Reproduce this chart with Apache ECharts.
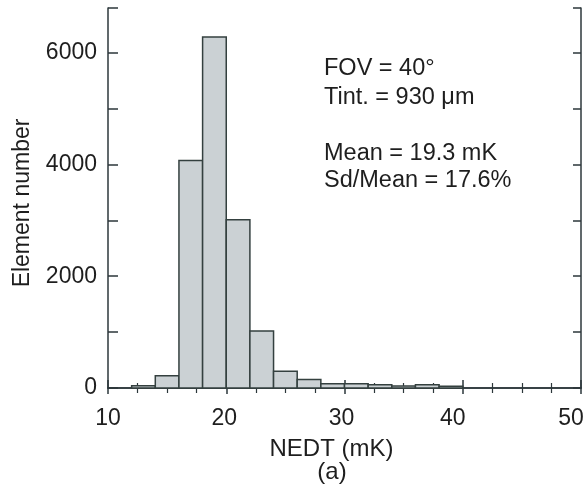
<!DOCTYPE html>
<html><head><meta charset="utf-8">
<script src="https://cdn.jsdelivr.net/npm/echarts@6/dist/echarts.min.js"></script>
<style>html,body{margin:0;padding:0;background:#fff}#c{width:588px;height:486px}</style>
</head><body><div id="c"></div>
<script>
const binStarts = [12, 14, 16, 18, 20, 22, 24, 26, 28, 30, 32, 34, 36, 38];
const binEnds   = [14, 16, 18, 20, 22, 24, 26, 28, 30, 32, 34, 36, 38, 40];
const counts    = [40, 220, 4070, 6280, 3010, 1020, 300, 150, 78, 75, 60, 35, 60, 30];
const xTickLabels = ['10', '20', '30', '40', '50'];
const yTickLabels = ['0', '2000', '4000', '6000'];
const annotations = ['FOV = 40°', 'Tint. = 930 μm', 'Mean = 19.3 mK', 'Sd/Mean = 17.6%'];

const chart = echarts.init(document.getElementById('c'), null, {renderer: 'canvas'});
const axisColor = '#2c373b';
const textColor = '#1e1e1e';
const font = 'Liberation Sans, Arial, sans-serif';
const fs = 23;
const afs = 23.5;
const data = binStarts.map((s, i) => [s, binEnds[i], counts[i]]);

// per-label horizontal nudges (as placed in the original figure)
const xShift = {'10': 0, '20': -2, '30': -3, '40': -10, '50': -10};

const richBase = {fontFamily: font, fontSize: fs, color: textColor};
const xRich = {};
xTickLabels.forEach(t => {
  const d = xShift[t] || 0;
  xRich['x' + t] = Object.assign({}, richBase, {padding: [0, d < 0 ? -2 * d : 0, 0, d > 0 ? 2 * d : 0]});
});

chart.setOption({
  animation: false,
  grid: {left: 108, right: 7, top: 8, bottom: 98},
  xAxis: [{
    type: 'value', min: 10, max: 50, interval: 10, position: 'bottom',
    name: 'NEDT (mK)', nameLocation: 'middle', nameGap: 49,
    nameTextStyle: {fontFamily: font, fontSize: 24, color: textColor, padding: [0, 26, 0, 0]},
    axisLine: {lineStyle: {color: axisColor, width: 1.5}},
    axisTick: {inside: true, length: 8, lineStyle: {color: axisColor, width: 1.5}},
    minorTick: {show: true, splitNumber: 4, length: 5, lineStyle: {color: axisColor, width: 1.2}},
    axisLabel: {margin: 19, rich: xRich,
      formatter: v => (xTickLabels.indexOf(String(v)) >= 0 ? '{x' + v + '|' + v + '}' : '')},
    splitLine: {show: false}
  }, {
    type: 'value', min: 10, max: 50, interval: 10, position: 'top',
    axisLine: {lineStyle: {color: axisColor, width: 1.5}},
    axisTick: {inside: true, length: 6, lineStyle: {color: axisColor, width: 1.5}},
    minorTick: {show: true, splitNumber: 4, length: 5, lineStyle: {color: axisColor, width: 1.2}},
    axisLabel: {show: false}, splitLine: {show: false}
  }],
  yAxis: [{
    type: 'value', min: 0, max: 6800, interval: 2000, position: 'left',
    axisLine: {show: true, lineStyle: {color: axisColor, width: 1.5}},
    axisTick: {show: true, inside: true, length: 10, lineStyle: {color: axisColor, width: 1.5}},
    minorTick: {show: true, splitNumber: 2, length: 10, lineStyle: {color: axisColor, width: 1.5}},
    axisLabel: {margin: 11, showMaxLabel: false, fontFamily: font, fontSize: fs, color: textColor,
      formatter: v => (yTickLabels.indexOf(String(v)) >= 0 ? String(v) : '')},
    splitLine: {show: false}
  }, {
    type: 'value', min: 0, max: 6800, interval: 2000, position: 'right',
    axisLine: {show: true, lineStyle: {color: axisColor, width: 1.5}},
    axisTick: {show: true, inside: true, length: 8, lineStyle: {color: axisColor, width: 1.5}},
    minorTick: {show: true, splitNumber: 2, length: 8, lineStyle: {color: axisColor, width: 1.5}},
    axisLabel: {show: false}, splitLine: {show: false}
  }],
  series: [{
    type: 'custom',
    xAxisIndex: 0, yAxisIndex: 0,
    data: data,
    renderItem: function (params, api) {
      const p0 = api.coord([api.value(0), api.value(2)]);
      const p1 = api.coord([api.value(1), 0]);
      return {
        type: 'rect',
        shape: {x: p0[0], y: p0[1], width: p1[0] - p0[0], height: p1[1] - p0[1]},
        style: {fill: '#cbd1d4', stroke: '#34403f', lineWidth: 1.5}
      };
    },
    z: 1
  }],
  graphic: [
    {type: 'text', x: 324, y: 69, style: {text: annotations[0], font: afs + 'px ' + font, fill: textColor, verticalAlign: 'middle'}},
    {type: 'text', x: 324, y: 98, style: {text: annotations[1], font: afs + 'px ' + font, fill: textColor, verticalAlign: 'middle'}},
    {type: 'text', x: 324, y: 154, style: {text: annotations[2], font: afs + 'px ' + font, fill: textColor, verticalAlign: 'middle'}},
    {type: 'text', x: 324, y: 181, style: {text: annotations[3], font: afs + 'px ' + font, fill: textColor, verticalAlign: 'middle'}},
    {type: 'text', x: 332, y: 472, style: {text: '(a)', font: '24px ' + font, fill: textColor, align: 'center', verticalAlign: 'middle'}},
    {type: 'text', x: 23, y: 203, rotation: Math.PI / 2,
      style: {text: 'Element number', font: fs + 'px ' + font, fill: textColor, align: 'center', verticalAlign: 'middle'}}
  ]
});
</script></body></html>
